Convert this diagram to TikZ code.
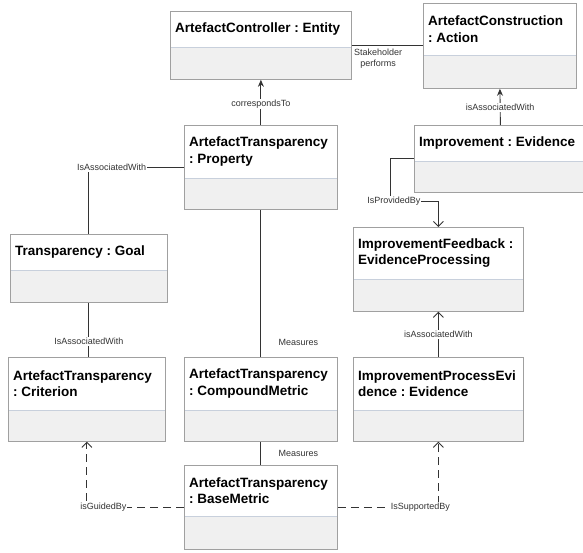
\documentclass[tikz,border=0pt]{standalone}
\usepackage{fontspec}
\setmainfont{Liberation Sans}
\usetikzlibrary{arrows.meta}
\frenchspacing

\definecolor{bodygray}{HTML}{F0F0F0}
\definecolor{boxline}{HTML}{A0A0A0}
\definecolor{divline}{HTML}{C8D0DC}
\definecolor{edgeline}{HTML}{333333}

\tikzset{
  classbox/.style={draw=boxline, fill=bodygray, line width=0.8pt, inner sep=0pt, anchor=north west},
  classtext/.style={font=\fontsize{13.5}{16.5}\selectfont\bfseries, align=left, anchor=west, inner sep=0pt},
  edgelabel/.style={font=\fontsize{9}{11}\selectfont, fill=white, inner sep=1pt},
  assoc/.style={edgeline, line width=0.9pt},
  navig/.style={assoc, -{Stealth[length=7pt,width=6pt]}},
  depend/.style={assoc, -{Straight Barb[length=5pt,width=10pt]}},
  guided/.style={depend, dash pattern=on 8pt off 5pt},
}

% #1 name, #2 x, #3 y, #4 width, #5 height, #6 header height, #7 text
\newcommand{\umlclass}[7]{%
  \node[classbox, minimum width=#4pt, minimum height=#5pt,
    path picture={
      \fill[white] (path picture bounding box.north west) rectangle ([yshift=-#6pt]path picture bounding box.north east);
      \draw[divline, line width=0.8pt] ([yshift=-#6pt]path picture bounding box.north west) -- ([yshift=-#6pt]path picture bounding box.north east);
    }] (#1) at (#2,#3) {};
  \node[classtext] (#1-t) at ([xshift=5pt, yshift=-#6pt/2]#1.north west) {#7};
}

\begin{document}
\begin{tikzpicture}[x=1pt, y=-1pt]
    \useasboundingbox (0,0) rectangle (583,552);

    % --- 类框 ---
    \umlclass{ctrl}{170}{11}{181}{68}{36}{ArtefactController : Entity}
    \umlclass{constr}{423}{3}{153}{85}{52}{ArtefactConstruction\\: Action}
    \umlclass{prop}{184}{125}{153}{84}{53}{ArtefactTransparency\\: Property}
    \umlclass{impr}{414}{125}{172}{67}{36}{Improvement : Evidence}
    \umlclass{goal}{10}{234}{157}{68}{36}{Transparency : Goal}
    \umlclass{feed}{353}{227}{170}{84}{52}{ImprovementFeedback :\\EvidenceProcessing}
    \umlclass{crit}{8}{357}{157}{84}{53}{ArtefactTransparency\\: Criterion}
    \umlclass{comp}{184}{357}{153}{84}{53}{ArtefactTransparency\\: CompoundMetric}
    \umlclass{procev}{353}{357}{170}{84}{53}{ImprovementProcessEvi\\dence : Evidence}
    \umlclass{base}{184}{465}{153}{84}{51}{ArtefactTransparency\\: BaseMetric}

    % --- 上方连线 ---
    \draw[navig] (prop.north) -- node[edgelabel, pos=0.46] {correspondsTo} (ctrl.south);
    \draw[assoc] (ctrl.east) -- node[font=\fontsize{9}{11}\selectfont, below, pos=0.37, align=center] {Stakeholder\\performs} (constr.west |- ctrl.east);
    \draw[navig] (impr.north) -- node[edgelabel, pos=0.49] {isAssociatedWith} (constr.south);

    % --- 左侧连线 ---
    \draw[assoc] (prop.west) -| node[edgelabel, pos=0.38] {IsAssociatedWith} (goal.north);
    \draw[assoc] (goal.south) -- node[edgelabel, pos=0.71] {IsAssociatedWith} (goal.south |- crit.north);

    % --- 中间连线 (Measures) ---
    \draw[assoc] (prop.south) -- node[font=\fontsize{9}{11}\selectfont, anchor=west, xshift=14pt, pos=0.9] {Measures} (comp.north);
    \draw[assoc] (comp.south) -- node[font=\fontsize{9}{11}\selectfont, anchor=west, xshift=14pt] {Measures} (base.north);

    % --- 虚线 ---
    \draw[guided] (base.west) -| node[edgelabel, pos=0.415] {isGuidedBy} (crit.south);
    \draw[guided] (base.east) -| node[edgelabel, pos=0.41] {IsSupportedBy} (procev.south);

    % --- 右侧连线 ---
    \draw[depend] (procev.north) -- node[edgelabel] {isAssociatedWith} (feed.south);
    \coordinate (provbend) at (390,201);
    \draw[depend] (impr.west) -| (provbend) -| node[edgelabel, pos=0.04] {IsProvidedBy} (feed.north);

\end{tikzpicture}
\end{document}
